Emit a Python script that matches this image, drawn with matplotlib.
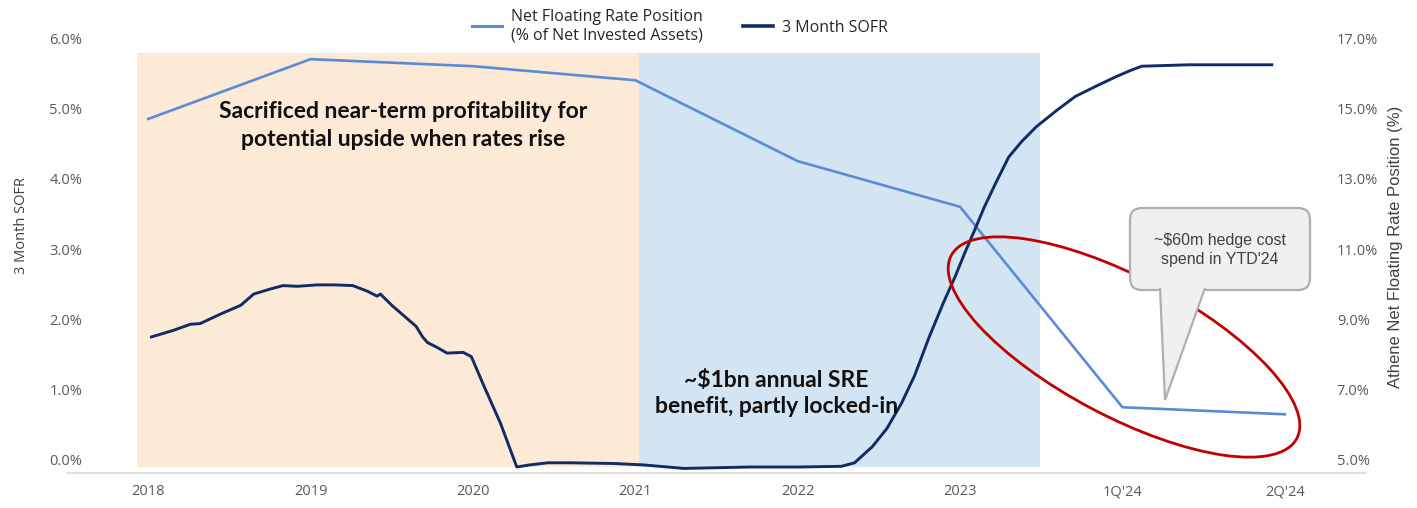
import matplotlib.pyplot as plt
from matplotlib.patches import Ellipse, FancyBboxPatch, Polygon
from matplotlib.lines import Line2D
from matplotlib.ticker import FuncFormatter

# category axis: 2018..2023 annual, then 2024 quarters
periods = ["2018", "2019", "2020", "2021", "2022", "2023", "1Q'24", "2Q'24"]

# net floating rate position (% of net invested assets), right axis
net_floating = [14.7, 16.4, 16.2, 15.8, 13.5, 12.2, 6.5, 6.3]

# 3 month SOFR (%), position along the category axis
sofr_t = [0.02, 0.15, 0.26, 0.32, 0.45, 0.57, 0.65, 0.75, 0.83, 0.92, 1.04, 1.15,
          1.26, 1.35, 1.41, 1.43, 1.50, 1.58, 1.65, 1.69, 1.72, 1.78, 1.84, 1.94,
          1.99, 2.07, 2.17, 2.27, 2.35, 2.46, 2.60, 2.87, 3.05, 3.30, 3.50, 3.70,
          4.00, 4.27, 4.35, 4.46, 4.55, 4.64, 4.72, 4.81, 4.90, 4.97, 5.03, 5.09,
          5.15, 5.22, 5.30, 5.38, 5.47, 5.60, 5.71, 5.85, 5.96, 6.05, 6.12, 6.41,
          6.92]
sofr = [1.75, 1.84, 1.93, 1.94, 2.08, 2.20, 2.36, 2.43, 2.48, 2.47, 2.49, 2.49,
        2.48, 2.40, 2.33, 2.36, 2.20, 2.04, 1.90, 1.75, 1.67, 1.60, 1.52, 1.53,
        1.47, 1.04, 0.52, -0.10, -0.07, -0.04, -0.04, -0.05, -0.07, -0.12, -0.11, -0.10,
        -0.10, -0.09, -0.04, 0.19, 0.45, 0.81, 1.20, 1.75, 2.25, 2.61, 2.95, 3.27,
        3.60, 3.94, 4.31, 4.53, 4.74, 4.98, 5.17, 5.33, 5.45, 5.54, 5.60, 5.62,
        5.62]

# shaded phases (category-axis spans)
phase_orange = (-0.07, 3.02)
phase_blue = (3.02, 5.49)

sofr_ticks = [0, 1, 2, 3, 4, 5, 6]
nfr_ticks = [5, 7, 9, 11, 13, 15, 17]

C_NFR = "#5B8BD5"
C_SOFR = "#112C64"
C_TICK = "#595959"

fig = plt.figure(figsize=(14.17, 5.08), dpi=100)
ax = fig.add_axes([0.0473, 0.0689, 0.9167, 0.870])
ax2 = ax.twinx()

# right axis holds the shading and the net floating line, left axis sits on top
ax.set_zorder(ax2.get_zorder() + 1)
ax.patch.set_visible(False)

ax2.axvspan(*phase_orange, ymin=0.0136, ymax=0.950, color="#FCE9D6", lw=0)
ax2.axvspan(*phase_blue, ymin=0.0136, ymax=0.950, color="#D3E5F3", lw=0)
ax2.plot(range(len(periods)), net_floating, color=C_NFR, lw=1.9)

ax.plot(sofr_t, sofr, color=C_SOFR, lw=2.1)

ax.set_xlim(-0.5, 7.5)
ax.set_ylim(-0.185, 6.1)
ax2.set_ylim(5 + 2 * -0.185, 5 + 2 * 6.1)

ax.set_xticks(range(len(periods)))
ax.set_xticklabels(periods)
ax.set_yticks(sofr_ticks)
ax.yaxis.set_major_formatter(FuncFormatter(lambda v, _: f"{v:.1f}%"))
ax2.set_yticks(nfr_ticks)
ax2.yaxis.set_major_formatter(FuncFormatter(lambda v, _: f"{v:.1f}%"))

for a in (ax, ax2):
    for s in a.spines.values():
        s.set_visible(False)
ax.spines["bottom"].set_visible(True)
ax.spines["bottom"].set_color("#D9D9D9")
ax.spines["bottom"].set_linewidth(1.2)

ax.tick_params(axis="x", length=0, pad=8, colors=C_TICK)
ax.tick_params(axis="y", length=0, pad=-11, colors=C_TICK)
ax2.tick_params(axis="y", length=0, pad=-21, colors=C_TICK)
for lbl in ax.get_xticklabels() + ax.get_yticklabels() + ax2.get_yticklabels():
    lbl.set_fontfamily("Open Sans")
    lbl.set_fontsize(10.5)

ax.set_ylabel("3 Month SOFR", family="Open Sans", size=10.5, color="#404040")
ax.yaxis.set_label_coords(-0.029, 0.560)
ax2.set_ylabel("Athene Net Floating Rate Position (%)", family="Liberation Sans",
               size=12, color="#404040")
ax2.yaxis.set_label_coords(1.017, 0.511)

# phase annotations
ax.text(1.57, 4.76, "Sacrificed near-term profitability for\npotential upside when rates rise",
        ha="center", va="center", family="Lato", weight="bold", size=16.5,
        color="#111111", linespacing=1.4)
ax.text(3.87, 0.95, "~$1bn annual SRE\nbenefit, partly locked-in",
        ha="center", va="center", family="Lato", weight="bold", size=16.5,
        color="#111111", linespacing=1.3)

# legend
handles = [Line2D([], [], color=C_NFR, lw=2.2), Line2D([], [], color=C_SOFR, lw=2.6)]
fig.legend(handles, ["Net Floating Rate Position\n(% of Net Invested Assets)", "3 Month SOFR"],
           loc="center left", bbox_to_anchor=(0.333, 0.949), ncol=2, frameon=False,
           borderpad=0, borderaxespad=0, handlelength=1.9, handletextpad=0.55,
           columnspacing=2.5, prop=dict(family="Open Sans", size=11.5),
           labelcolor="#262626")

# red ellipse around the 2023-2024 drop (figure inches)
inch = fig.dpi_scale_trans
fig.patches.append(Ellipse((11.24, 1.61), 3.91, 1.39, angle=-27.9, transform=inch,
                           fill=False, edgecolor="#C00000", lw=2.0, zorder=5))

# callout bubble
fig.patches.append(FancyBboxPatch((11.30, 2.18), 1.80, 0.82,
                                  boxstyle="round,pad=0,rounding_size=0.12",
                                  transform=inch, facecolor="#F0F0F0",
                                  edgecolor="#AFAFAF", lw=1.6, zorder=6))
fig.patches.append(Polygon([(11.60, 2.20), (11.65, 1.08), (12.05, 2.20)], closed=False,
                           transform=inch, facecolor="#F0F0F0", edgecolor="#AFAFAF",
                           lw=1.6, zorder=7))
fig.text(12.20 / 14.17, 2.58 / 5.08, "~$60m hedge cost\nspend in YTD'24", ha="center",
         va="center", family="Liberation Sans", size=11.5, color="#404040",
         linespacing=1.35, zorder=8)

fig.savefig("out.png", dpi=100)
